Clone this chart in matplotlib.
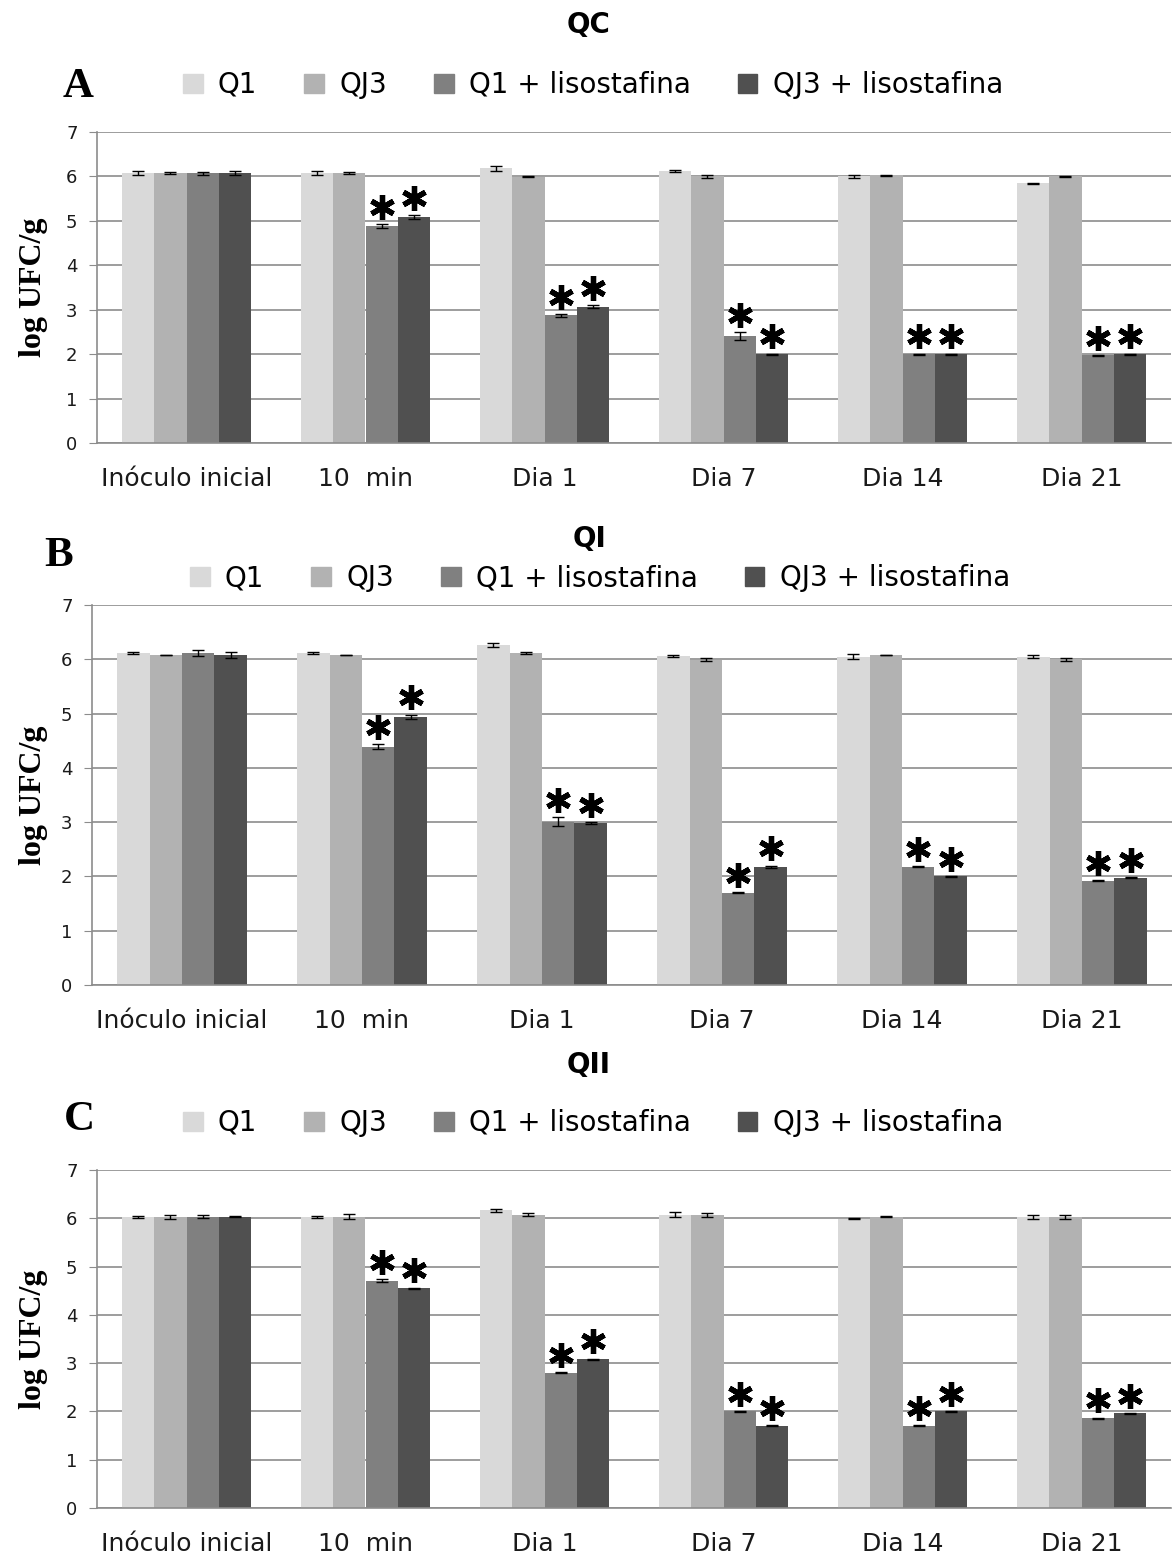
import numpy as np
import matplotlib
matplotlib.use("Agg")
import matplotlib.pyplot as plt
from matplotlib.patches import Rectangle
from matplotlib.transforms import offset_copy

categories = ["Inóculo inicial", "10  min", "Dia 1", "Dia 7", "Dia 14", "Dia 21"]
series = ["Q1", "QJ3", "Q1 + lisostafina", "QJ3 + lisostafina"]
colors = ["#d9d9d9", "#b2b2b2", "#808080", "#505050"]

# QC
qc_q1 = [6.08, 6.08, 6.18, 6.13, 6.00, 5.85]
qc_qj3 = [6.08, 6.08, 5.99, 6.00, 6.03, 6.00]
qc_q1_lis = [6.07, 4.88, 2.87, 2.40, 2.00, 1.97]
qc_qj3_lis = [6.08, 5.09, 3.07, 2.00, 2.00, 2.00]
qc_q1_err = [0.04, 0.04, 0.06, 0.02, 0.03, 0.01]
qc_qj3_err = [0.03, 0.03, 0.01, 0.03, 0.01, 0.01]
qc_q1_lis_err = [0.04, 0.05, 0.03, 0.09, 0.01, 0.01]
qc_qj3_lis_err = [0.04, 0.04, 0.03, 0.01, 0.01, 0.01]

# QI
qi_q1 = [6.12, 6.12, 6.26, 6.06, 6.05, 6.05]
qi_qj3 = [6.08, 6.08, 6.12, 5.99, 6.08, 6.00]
qi_q1_lis = [6.12, 4.39, 3.01, 1.70, 2.18, 1.92]
qi_qj3_lis = [6.08, 4.94, 2.98, 2.18, 2.00, 1.98]
qi_q1_err = [0.02, 0.02, 0.04, 0.01, 0.04, 0.02]
qi_qj3_err = [0.005, 0.005, 0.02, 0.03, 0.005, 0.03]
qi_q1_lis_err = [0.06, 0.05, 0.08, 0.01, 0.01, 0.01]
qi_qj3_lis_err = [0.05, 0.04, 0.02, 0.02, 0.01, 0.01]

# QII
qii_q1 = [6.03, 6.03, 6.17, 6.07, 5.99, 6.02]
qii_qj3 = [6.03, 6.03, 6.07, 6.07, 6.03, 6.03]
qii_q1_lis = [6.03, 4.71, 2.80, 2.00, 1.70, 1.86]
qii_qj3_lis = [6.03, 4.55, 3.08, 1.70, 2.00, 1.96]
qii_q1_err = [0.02, 0.02, 0.03, 0.05, 0.01, 0.04]
qii_qj3_err = [0.04, 0.05, 0.03, 0.04, 0.01, 0.04]
qii_q1_lis_err = [0.03, 0.03, 0.01, 0.01, 0.01, 0.01]
qii_qj3_lis_err = [0.01, 0.01, 0.01, 0.01, 0.01, 0.01]

# significant difference marks (lysostaphin series only)
signif = [False, True, True, True, True, True]

W, H = 1172, 1560
fig = plt.figure(figsize=(W / 100, H / 100), dpi=100)
grid_c = "#8c8c8c"
serif = "Liberation Serif"


def px_axes(left, right, top, bottom):
    return fig.add_axes([left / W, 1 - bottom / H, (right - left) / W, (bottom - top) / H])


def panel(ax, vals, errs):
    x = np.arange(len(categories))
    width = 0.18
    for i in range(4):
        pos = x + (i - 1.5) * width
        ax.bar(pos, vals[i], width, color=colors[i], linewidth=0,
               yerr=errs[i], error_kw=dict(ecolor="black", elinewidth=1, capsize=4, capthick=1))
        if i >= 2:
            trans = offset_copy(ax.transData, fig=fig, y=12.5, units="points")
            for j in range(len(categories)):
                if signif[j]:
                    ax.plot(pos[j], vals[i][j] + errs[i][j], marker=(6, 2, 0), ms=18,
                            mew=3.8, color="black", transform=trans, clip_on=False)
    ax.set_xlim(-0.5, len(categories) - 0.5)
    ax.set_ylim(0, 7)
    ax.set_yticks(range(8))
    ax.set_xticks(x)
    ax.set_xticklabels(categories, fontsize=18, color="#1a1a1a")
    ax.tick_params(axis="x", length=0, pad=17)
    ax.tick_params(axis="y", length=6, color=grid_c, labelsize=13, labelcolor="#1a1a1a", pad=8)
    ax.yaxis.grid(True, color=grid_c, linewidth=1.2)
    ax.set_axisbelow(True)
    for s in ["top", "right"]:
        ax.spines[s].set_visible(False)
    for s in ["left", "bottom"]:
        ax.spines[s].set_color(grid_c)
        ax.spines[s].set_linewidth(1.2)


def legend(ax, cx, cy):
    handles = [Rectangle((0, 0), 1, 1, color=c) for c in colors]
    ax.legend(handles, series, ncol=4, loc="center", bbox_to_anchor=(cx / W, 1 - cy / H),
              bbox_transform=fig.transFigure, frameon=False, fontsize=20,
              handlelength=0.7, handleheight=0.7, handletextpad=0.55, columnspacing=1.7)


ax_a = px_axes(97, 1171, 132, 443)
panel(ax_a, [qc_q1, qc_qj3, qc_q1_lis, qc_qj3_lis],
      [qc_q1_err, qc_qj3_err, qc_q1_lis_err, qc_qj3_lis_err])
legend(ax_a, 593, 85)

ax_b = px_axes(92, 1172, 605, 985)
panel(ax_b, [qi_q1, qi_qj3, qi_q1_lis, qi_qj3_lis],
      [qi_q1_err, qi_qj3_err, qi_q1_lis_err, qi_qj3_lis_err])
legend(ax_b, 600, 578)

ax_c = px_axes(97, 1171, 1170, 1508)
panel(ax_c, [qii_q1, qii_qj3, qii_q1_lis, qii_qj3_lis],
      [qii_q1_err, qii_qj3_err, qii_q1_lis_err, qii_qj3_lis_err])
legend(ax_c, 593, 1123)

# panel titles, letters and y labels
for title, ty in [("QC", 25), ("QI", 539), ("QII", 1065)]:
    fig.text(589 / W, 1 - ty / H, title, fontsize=20, fontweight="bold", ha="center", va="center")
for letter, lx, ly in [("A", 78, 87), ("B", 59, 556), ("C", 79, 1120)]:
    fig.text(lx / W, 1 - ly / H, letter, family=serif, fontsize=31, fontweight="bold",
             ha="center", va="center")
for yc in [287, 795, 1339]:
    fig.text(33 / W, 1 - yc / H, "log UFC/g", family=serif, fontsize=23, fontweight="bold",
             rotation=90, ha="center", va="center")

fig.savefig("out.png", dpi=100)
